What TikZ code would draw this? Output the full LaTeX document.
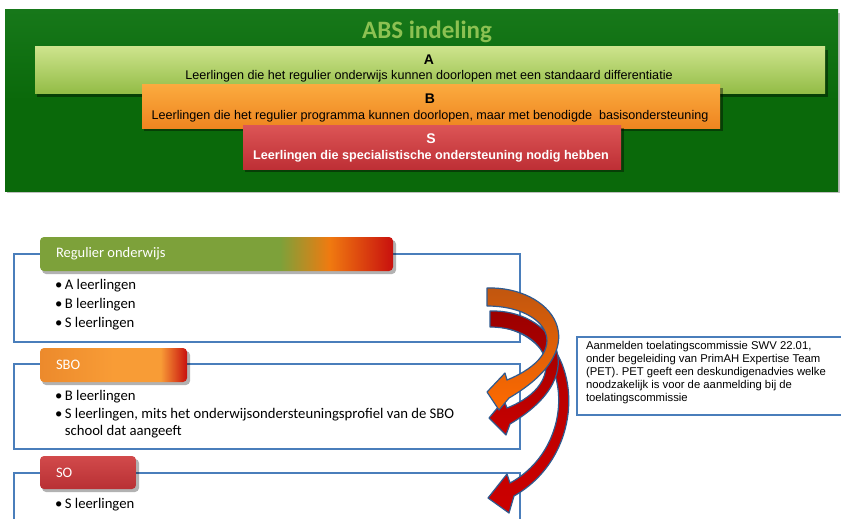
\documentclass[tikz,border=0pt]{standalone}
\usepackage{fontspec}
\setmainfont{Carlito}
\newfontfamily\arial{Liberation Sans}
\usetikzlibrary{calc}
\definecolor{bggreen}{HTML}{0A690A}
\definecolor{bggreenTop}{HTML}{17781A}
\definecolor{titlegreen}{HTML}{8CC152}
\definecolor{aTop}{HTML}{CDE38C}
\definecolor{aBot}{HTML}{92BC45}
\definecolor{bTop}{HTML}{FBAA3E}
\definecolor{bBot}{HTML}{EE8520}
\definecolor{sTop}{HTML}{DC5556}
\definecolor{sBot}{HTML}{BE2F35}
\definecolor{boxblue}{HTML}{4A7EBB}
\definecolor{hdrgreen}{HTML}{7DA13A}
\definecolor{hdrorange}{HTML}{F07A10}
\definecolor{hdrred}{HTML}{C8100E}
\definecolor{sboorange}{HTML}{EC8A2C}
\definecolor{sbolight}{HTML}{F89C36}
\definecolor{soTop}{HTML}{D24A4B}
\definecolor{soBot}{HTML}{B83034}
\definecolor{arrowline}{HTML}{2F5A8F}
\definecolor{orDark}{HTML}{C0560F}
\definecolor{orBright}{HTML}{FF6A00}
\definecolor{drTop}{HTML}{9A0000}
\definecolor{drBot}{HTML}{C80000}
\definecolor{lrTop}{HTML}{B00000}
\definecolor{lrBot}{HTML}{CC0000}
\pgfdeclarehorizontalshading{regshade}{100bp}{color(0bp)=(hdrgreen); color(25bp)=(hdrgreen); color(59bp)=(hdrgreen); color(66bp)=(hdrorange); color(75bp)=(hdrred); color(100bp)=(hdrred)}
\pgfdeclarehorizontalshading{sboshade}{100bp}{color(0bp)=(sboorange); color(25bp)=(sboorange); color(50bp)=(sbolight); color(66bp)=(sbolight); color(75bp)=(hdrred); color(100bp)=(hdrred)}
\begin{document}
\begin{tikzpicture}[x=1pt,y=-1pt,
  every node/.style={inner sep=0pt, outer sep=0pt},
  shadowrect/.style={fill=black, opacity=0.4},
  bluebox/.style={draw=boxblue, line width=1.6pt},
  hdrshadow/.style={fill=black, opacity=0.3, rounded corners=4pt},
  hdrtext/.style={text=white, font=\fontsize{14.5}{16}\selectfont, anchor=west},
  bul/.style={anchor=west, font=\fontsize{14.7}{17}\selectfont, align=left},
  letter/.style={font=\arial\bfseries\fontsize{14}{15}\selectfont},
  barline/.style={font=\arial\fontsize{12.6}{14}\selectfont},
  arr/.style={draw=arrowline, line width=1.2pt, line join=round},
]
\useasboundingbox (0,0) rectangle (841,519);
\fill[white] (0,0) rectangle (841,519);

% ---- top green panel
\fill[black, opacity=.25] (7,13) rectangle (840,193);
\shade[top color=bggreenTop, bottom color=bggreen, middle color=bggreen] (5,10) rectangle (838,191);
\node[font=\bfseries\fontsize{25}{28}\selectfont, text=titlegreen] (title) at (427,32) {ABS indeling};

% bar A
\fill[shadowrect] (37,50) rectangle (828,97);
\shade[top color=aTop, bottom color=aBot] (35,47) rectangle (825,94);
\node[letter] (aL) at (429,60) {A};
\node[barline] (aT) at (429,76) {Leerlingen die het regulier onderwijs kunnen doorlopen met een standaard differentiatie};

% bar B
\fill[shadowrect] (144,88) rectangle (723,131);
\shade[top color=bTop, bottom color=bBot] (142,85) rectangle (720,128);
\node[letter] (bL) at (430,99) {B};
\node[barline] (bT) at (430,116) {Leerlingen die het regulier programma kunnen doorlopen, maar met benodigde\ \ basisondersteuning};

% bar S
\fill[shadowrect] (245,128) rectangle (624,172);
\shade[top color=sTop, bottom color=sBot] (243,125) rectangle (621,169);
\node[letter, text=white] (sL) at (431,139) {S};
\node[barline, font=\arial\bfseries\fontsize{12.6}{14}\selectfont, text=white] (sT) at (431,156) {Leerlingen die specialistische ondersteuning nodig hebben};

% ---- lower boxes
\draw[bluebox] (14,254) rectangle (520,342);
\draw[bluebox] (14,364) rectangle (520,449);
\draw[bluebox] (14,530) -- (14,473) -- (520,473) -- (520,530);

% headers
\fill[hdrshadow] (42,240) rectangle (396,274);
\shade[shading=regshade, rounded corners=4pt] (40,237) rectangle (393,271);
\node[hdrtext] (regT) at (56,254) {Regulier onderwijs};

\fill[hdrshadow] (42,351) rectangle (190,385);
\shade[shading=sboshade, rounded corners=4pt] (40,348) rectangle (187,382);
\node[hdrtext] (sboT) at (56,365) {SBO};

\fill[hdrshadow] (42,459) rectangle (139,492);
\shade[top color=soTop, bottom color=soBot, rounded corners=4pt] (40,456) rectangle (136,489);
\node[hdrtext] (soT) at (56,473) {SO};

% bullets
\node[bul] (b1) at (55,286) {\textbullet\hspace{2.5pt}A leerlingen};
\node[bul] (b2) at (55,305) {\textbullet\hspace{2.5pt}B leerlingen};
\node[bul] (b3) at (55,323.5) {\textbullet\hspace{2.5pt}S leerlingen};
\node[bul] (b4) at (55,397) {\textbullet\hspace{2.5pt}B leerlingen};
\node[bul, anchor=north west] (b5) at (55,408) {\textbullet\hspace{2.5pt}S leerlingen, mits het onderwijsondersteuningsprofiel van de SBO\\\phantom{\textbullet}\hspace{2.5pt}school dat aangeeft};
\node[bul] (b6) at (55,505) {\textbullet\hspace{2.5pt}S leerlingen};

% right text box
\draw[bluebox] (577,337) rectangle (850,415);
\node[anchor=north west, align=left, font=\arial\fontsize{11.3}{13.2}\selectfont] (pet) at (586,341)
  {Aanmelden toelatingscommissie SWV 22.01,\\onder begeleiding van PrimAH Expertise Team\\(PET). PET geeft een deskundigenadvies welke\\noodzakelijk is voor de aanmelding bij de\\toelatingscommissie};

% ---- curved block arrows
\shade[top color=lrTop, bottom color=lrBot] (492,314) .. controls (585,320) and (595,450) .. (514,496) -- (509,513) -- (488,498) -- (507,474) -- (510,483) .. controls (580,445) and (575,332) .. (492,326) -- cycle;
\draw[arr] (492,314) .. controls (585,320) and (595,450) .. (514,496) -- (509,513) -- (488,498) -- (507,474) -- (510,483) .. controls (580,445) and (575,332) .. (492,326) -- cycle;

\shade[top color=drTop, bottom color=drBot] (490,311) .. controls (550,309) and (598,372) .. (510,424) -- (506,435) -- (489,418) -- (504,400) -- (507,408) .. controls (572,382) and (548,327) .. (490,327) -- cycle;
\draw[arr] (490,311) .. controls (550,309) and (598,372) .. (510,424) -- (506,435) -- (489,418) -- (504,400) -- (507,408) .. controls (572,382) and (548,327) .. (490,327) -- cycle;

\shade[top color=orDark, bottom color=orBright] (487,288) .. controls (550,286) and (600,345) .. (509,398) -- (499,410) -- (487,392) -- (505,373) -- (507,380) .. controls (575,352) and (548,306) .. (487,306) -- cycle;
\draw[arr] (487,288) .. controls (550,286) and (600,345) .. (509,398) -- (499,410) -- (487,392) -- (505,373) -- (507,380) .. controls (575,352) and (548,306) .. (487,306) -- cycle;
\end{tikzpicture}
\end{document}
